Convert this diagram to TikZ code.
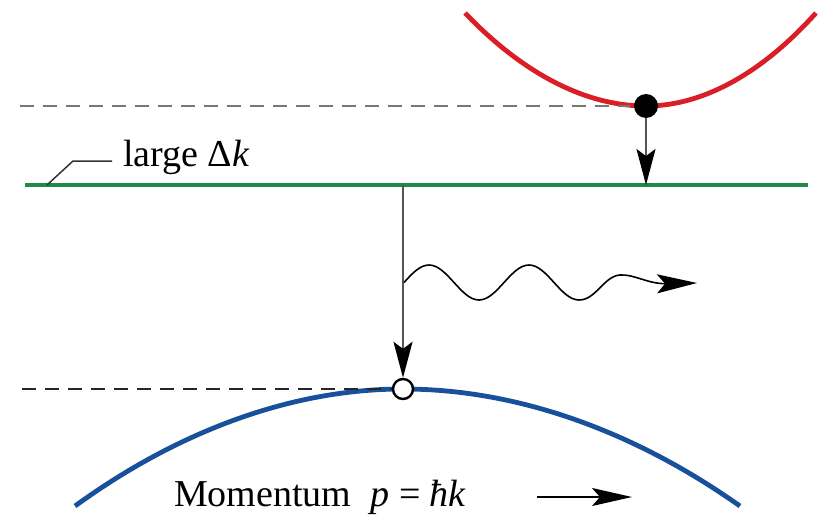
\documentclass[tikz,border=0pt]{standalone}
\usepackage{fontspec}
\setmainfont{Liberation Serif}
\usetikzlibrary{arrows.meta}
\definecolor{bandred}{RGB}{218,30,38}
\definecolor{bandgreen}{RGB}{30,140,70}
\definecolor{bandblue}{RGB}{25,80,155}
\definecolor{conn}{RGB}{85,85,85}
\tikzset{
  band/.style={line width=4.8pt},
  guide/.style={conn, line width=2pt, dash pattern=on 14pt off 9pt},
  connector/.style={conn, line width=1.8pt, -{Stealth[length=36pt,width=19pt,inset=7pt,color=black]}},
  lbl/.style={font=\fontsize{38}{40}\selectfont, inner sep=0pt},
  leader/.style={black!80, line width=1.5pt}
}
\begin{document}
\begin{tikzpicture}[x=1pt,y=-1pt]
\useasboundingbox (0,0) rectangle (822,522);
% guide lines
\coordinate (gl1) at (20,106);
\coordinate (gl2) at (22,389);
% red band
\draw[band, bandred] (465,13) parabola bend (646,106) (816,13);
\draw[guide, conn!80] (gl1) -- (630,106);
% green level
\coordinate (gA) at (25,185);
\coordinate (gB) at (808,185);
\draw[band, bandgreen] (gA) -- (gB);
% blue band
\draw[band, bandblue] (75,506) parabola bend (403,389) (740,506);
\draw[guide, black!85] (gl2) -- (395,389);
% electron and hole
\node[circle, fill=black, minimum size=24pt, inner sep=0pt] (el) at (646,106) {};
\node[circle, fill=white, draw=black, line width=2.4pt, minimum size=20pt, inner sep=0pt] (ho) at (403,389) {};
% transitions
\coordinate (gE) at (646,185);
\coordinate (gT) at (403,185);
\draw[connector] (el) -- (gE);
\draw[connector] (gT) -- (ho);
% photon
\coordinate (ph0) at (404,282.5);
\coordinate (ph1) at (697,283);
\draw[black, line width=1.6pt, -{Stealth[length=40pt,width=19pt,inset=8pt]}]
  (ph0) sin (429,265) cos (454,282.5) sin (479,300) cos (504,282.5)
  sin (529,265) cos (554,282.5) sin (579,300)
  .. controls (596,300) and (604,276) .. (620,275)
  .. controls (634,274) and (648,284) .. (ph1);
% label with leader
\node[lbl, anchor=base west] (lg) at (123,166) {large Δ\textit{k}};
\coordinate (ld0) at (47,185);
\coordinate (ld1) at (73,161);
\coordinate (ld2) at (112,161);
\draw[leader] (ld0) -- (ld1) -- (ld2);
% momentum
\node[lbl, anchor=base west] (mo) at (174,506) {Momentum\ \ \textit{p} = \textit{ħk}};
\coordinate (ma) at (537,497);
\coordinate (mb) at (632,497);
\draw[black, line width=1.8pt, -{Stealth[length=40pt,width=18pt,inset=8pt]}] (ma) -- (mb);
\end{tikzpicture}
\end{document}
